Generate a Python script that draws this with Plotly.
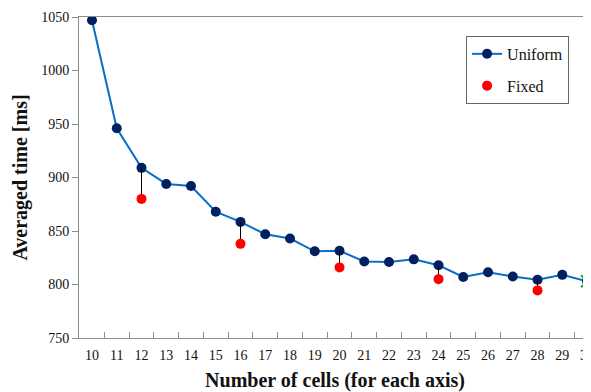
import plotly.graph_objects as go

cells = [str(c) for c in range(10, 31)]
uniform = [1047, 946, 909, 894, 892, 868, 858.5, 847, 843, 831, 831.5,
           821.5, 821, 823.5, 818, 807, 811.5, 807.5, 804.5, 809, 803]
fixed_cells = ["12", "16", "20", "24", "28"]
fixed = [880, 838, 816, 805, 794.5]

u_map = dict(zip(cells, uniform))
gap = [u_map[c] - f for c, f in zip(fixed_cells, fixed)]

FONT = "Liberation Serif"
AX = "#8c8c8c"

fig = go.Figure()
fig.add_trace(go.Scatter(
    x=cells, y=uniform, mode="lines+markers", name="Uniform",
    line=dict(color="#0a6fc4", width=2),
    marker=dict(color="#002060", size=10),
    legendgroup="u", legendrank=1,
))
fig.add_trace(go.Scatter(
    x=fixed_cells, y=fixed, mode="markers", name="Fixed",
    marker=dict(color="#ff0000", size=10),
    error_y=dict(type="data", symmetric=False, array=gap,
                 arrayminus=[0] * len(gap), color="black",
                 thickness=1, width=0),
    legendgroup="f", legendrank=2,
))
fig.add_trace(go.Scatter(
    x=[cells[-1]], y=[uniform[-1]], mode="markers", showlegend=False,
    marker=dict(symbol="x-thin-open", size=12, color="#1aa32a",
                line=dict(width=2, color="#1aa32a")),
    hoverinfo="skip",
))

# the page body adds an 8px offset; figure size and margins compensate for it
fig.update_layout(
    width=583, height=384,
    margin=dict(l=71, r=0, t=9, b=54),
    paper_bgcolor="white", plot_bgcolor="white",
    font=dict(family=FONT, size=14, color="#111"),
    legend=dict(
        x=0.756, y=0.941, xanchor="left", yanchor="top",
        bgcolor="white", bordercolor="#666", borderwidth=1,
        font=dict(family=FONT, size=16, color="#111"),
        tracegroupgap=8, itemwidth=30,
    ),
)
fig.update_xaxes(
    type="category", range=[-0.525, 20.16], automargin=False,
    title=dict(text="<b>Number of cells (for each axis)</b>",
               font=dict(family=FONT, size=20, color="#111"), standoff=12),
    showgrid=False, showline=True, linecolor=AX, linewidth=1, mirror=True,
    ticks="inside", ticklen=6, tickcolor=AX, tickson="boundaries",
    ticklabelstandoff=4,
    tickfont=dict(family=FONT, size=14, color="#111"),
)
fig.update_yaxes(
    range=[750, 1050], dtick=50, automargin=False,
    title=dict(text="<b>Averaged time [ms]</b>",
               font=dict(family=FONT, size=20, color="#111"), standoff=8),
    showgrid=False, zeroline=False, showline=True, linecolor=AX, linewidth=1,
    mirror=True, ticks="outside", ticklen=6, tickcolor=AX,
    tickfont=dict(family=FONT, size=14, color="#111"),
)

fig.write_html("out.html")
